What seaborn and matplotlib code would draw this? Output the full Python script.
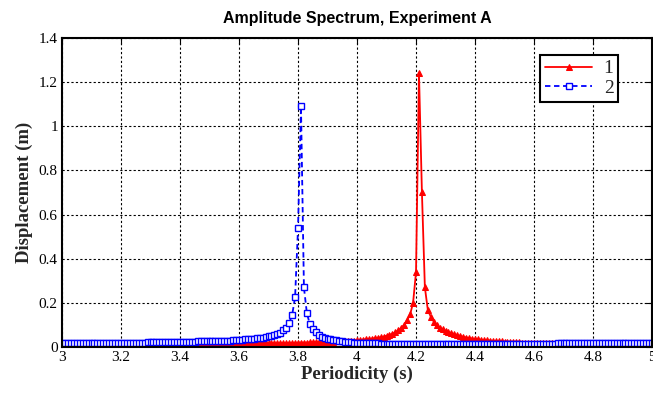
import numpy as np
import pandas as pd
import matplotlib
matplotlib.use("Agg")
import matplotlib.pyplot as plt
import seaborn as sns

# Periodicity grid (s), 3.00 .. 5.00 in steps of 0.01
periodicity = np.round(np.arange(300, 501) / 100.0, 2)

series1 = [  # red, triangles
    0.005,0.005,0.005,0.005,0.005,0.005,0.005,0.005,0.006,0.006,
    0.006,0.006,0.006,0.006,0.006,0.006,0.007,0.007,0.007,0.007,
    0.007,0.007,0.007,0.007,0.007,0.008,0.008,0.008,0.008,0.008,
    0.008,0.008,0.009,0.009,0.009,0.009,0.009,0.009,0.010,0.010,
    0.010,0.010,0.010,0.010,0.011,0.011,0.011,0.011,0.011,0.012,
    0.012,0.012,0.012,0.012,0.013,0.013,0.013,0.013,0.014,0.014,
    0.014,0.014,0.015,0.015,0.015,0.015,0.016,0.016,0.016,0.016,
    0.017,0.017,0.017,0.017,0.018,0.018,0.018,0.018,0.019,0.019,
    0.019,0.020,0.020,0.020,0.021,0.021,0.021,0.022,0.022,0.023,
    0.023,0.024,0.024,0.025,0.025,0.026,0.026,0.027,0.028,0.029,
    0.031,0.032,0.033,0.035,0.036,0.038,0.040,0.042,0.044,0.047,
    0.051,0.055,0.060,0.067,0.075,0.086,0.101,0.122,0.148,0.200,
    0.340,1.240,0.700,0.270,0.168,0.137,0.115,0.098,0.088,0.080,
    0.073,0.067,0.062,0.057,0.053,0.050,0.046,0.043,0.040,0.038,
    0.036,0.034,0.033,0.031,0.030,0.029,0.028,0.027,0.026,0.025,
    0.024,0.023,0.023,0.022,0.021,0.021,0.020,0.020,0.019,0.019,
    0.018,0.018,0.017,0.017,0.016,0.016,0.016,0.015,0.015,0.015,
    0.014,0.014,0.014,0.013,0.013,0.013,0.013,0.012,0.012,0.012,
    0.012,0.011,0.011,0.011,0.011,0.010,0.010,0.010,0.010,0.010,
    0.009,0.009,0.009,0.009,0.009,0.008,0.008,0.008,0.008,0.008,
    0.008,
]

series2 = [  # blue, squares
    0.016,0.016,0.016,0.016,0.017,0.017,0.017,0.017,0.017,0.017,
    0.018,0.018,0.018,0.018,0.018,0.018,0.019,0.019,0.019,0.019,
    0.019,0.019,0.019,0.020,0.020,0.020,0.020,0.020,0.020,0.021,
    0.021,0.021,0.021,0.021,0.022,0.022,0.022,0.022,0.022,0.023,
    0.023,0.023,0.023,0.024,0.024,0.024,0.025,0.025,0.025,0.026,
    0.026,0.026,0.027,0.027,0.028,0.028,0.029,0.029,0.030,0.031,
    0.032,0.033,0.034,0.035,0.036,0.037,0.039,0.041,0.043,0.046,
    0.049,0.051,0.054,0.058,0.064,0.075,0.088,0.110,0.145,0.225,
    0.540,1.090,0.270,0.153,0.104,0.080,0.067,0.056,0.047,0.042,
    0.038,0.035,0.032,0.030,0.028,0.026,0.024,0.022,0.021,0.020,
    0.019,0.018,0.018,0.017,0.017,0.016,0.016,0.016,0.015,0.015,
    0.015,0.015,0.014,0.014,0.014,0.014,0.014,0.013,0.013,0.013,
    0.013,0.013,0.013,0.012,0.012,0.012,0.012,0.012,0.012,0.012,
    0.012,0.012,0.012,0.012,0.012,0.012,0.012,0.012,0.012,0.012,
    0.012,0.012,0.012,0.012,0.012,0.012,0.012,0.012,0.012,0.012,
    0.012,0.012,0.013,0.013,0.013,0.013,0.013,0.013,0.013,0.013,
    0.013,0.013,0.014,0.014,0.014,0.015,0.015,0.015,0.016,0.016,
    0.016,0.017,0.017,0.017,0.017,0.018,0.018,0.018,0.018,0.018,
    0.019,0.019,0.019,0.019,0.019,0.019,0.019,0.019,0.019,0.019,
    0.019,0.019,0.019,0.020,0.020,0.020,0.020,0.020,0.020,0.020,
    0.020,
]

labels = ["1", "2"]
title = "Amplitude Spectrum, Experiment A"
xlabel = "Periodicity (s)"
ylabel = "Displacement (m)"
xticks = [3, 3.2, 3.4, 3.6, 3.8, 4, 4.2, 4.4, 4.6, 4.8, 5]
xticklabels = ["3", "3.2", "3.4", "3.6", "3.8", "4", "4.2", "4.4", "4.6", "4.8", "5"]
yticks = [0, 0.2, 0.4, 0.6, 0.8, 1.0, 1.2, 1.4]
yticklabels = ["0", "0.2", "0.4", "0.6", "0.8", "1", "1.2", "1.4"]

sns.set_theme(style="white")
plt.rcParams["font.family"] = ["Liberation Serif", "DejaVu Serif"]

df = pd.DataFrame({"T": periodicity, "s1": series1, "s2": series2})

fig = plt.figure(figsize=(6.53, 3.94), dpi=100)
ax = fig.add_axes([0.095, 0.1193, 0.9035, 0.7843])

sns.lineplot(data=df, x="T", y="s1", ax=ax, color="red", linewidth=1.3,
             marker="^", markersize=4.3, markeredgecolor="red",
             markerfacecolor="red", label=labels[0])
sns.lineplot(data=df, x="T", y="s2", ax=ax, color="blue", linewidth=1.3,
             linestyle=(0, (3, 2)), marker="s", markersize=3.8,
             markeredgecolor="blue", markerfacecolor="white",
             markeredgewidth=1.0, label=labels[1])

ax.set_xlim(3, 5)
ax.set_ylim(0, 1.4)
ax.set_xticks(xticks)
ax.set_xticklabels(xticklabels)
ax.set_yticks(yticks)
ax.set_yticklabels(yticklabels)
ax.tick_params(axis="both", direction="in", length=4, width=0.8, colors="black",
               labelsize=11, top=True, right=True, pad=3)
ax.grid(True, color="black", linestyle=(0, (2, 2)), linewidth=0.8)
for sp in ax.spines.values():
    sp.set_visible(True)
    sp.set_color("black")
    sp.set_linewidth(1.5)

ax.set_xlabel(xlabel, fontsize=13.5, fontweight="bold", labelpad=1)
ax.set_ylabel(ylabel, fontsize=13.5, fontweight="bold", labelpad=4)
ax.set_title(title, fontsize=11.5, fontweight="bold", color="black",
             family=["Liberation Sans", "DejaVu Sans"], pad=11)

leg = ax.legend(loc="upper right", bbox_to_anchor=(0.943, 0.945), fontsize=14,
                frameon=True, fancybox=False, framealpha=1, edgecolor="black",
                borderpad=0.25, handlelength=2.4, handletextpad=0.6,
                labelspacing=0.1, borderaxespad=0)
leg.get_frame().set_linewidth(1.5)

fig.savefig("out.png", dpi=100)
